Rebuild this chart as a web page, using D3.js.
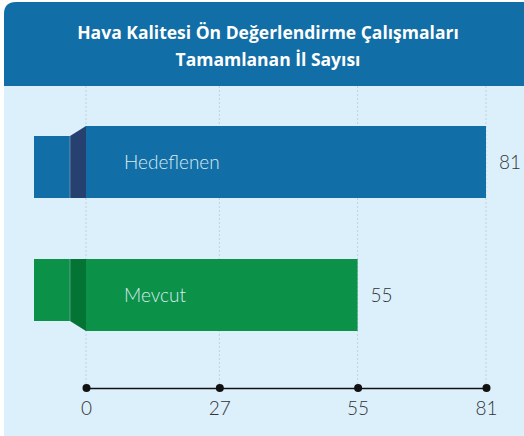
<!DOCTYPE html>
<html lang="tr">
<head>
<meta charset="utf-8">
<script src="https://d3js.org/d3.v7.min.js"></script>
<style>
  body { margin: 0; background: #fff; }
  svg { display: block; }
</style>
</head>
<body>
<script>
// data
const categories = ["Hedeflenen", "Mevcut"];
const values = [81, 55];
const tickValues = [0, 27, 55, 81];
const titleLines = ["Hava Kalitesi Ön Değerlendirme Çalışmaları", "Tamamlanan İl Sayısı"];

const colors = { Hedeflenen: "#126ea6", Mevcut: "#0b9148" };
const darkColors = { Hedeflenen: "#26406f", Mevcut: "#037434" };

const W = 524, H = 436;
const svg = d3.select("body").append("svg").attr("width", W).attr("height", H);

// card
svg.append("rect")
    .attr("x", 4).attr("y", 2).attr("width", 540).attr("height", 446)
    .attr("rx", 12).attr("fill", "#dcf0fc");

// header
const hdr = "M4,86 L4,14 Q4,2 16,2 L524,2 L524,86 Z";
svg.append("path").attr("d", hdr).attr("fill", "#126ea6");

svg.selectAll(".title")
    .data(titleLines)
    .enter().append("text")
    .attr("class", "title")
    .attr("x", 268)
    .attr("y", (d, i) => 39 + i * 27)
    .attr("text-anchor", "middle")
    .attr("fill", "#fff")
    .style("font-family", "'Open Sans', sans-serif")
    .style("font-weight", 700)
    .style("font-size", "17.5px")
    .text(d => d);

const x = d3.scaleLinear().domain([0, 81]).range([86, 486]);
const y = d3.scaleBand().domain(categories).range([126, 331]).paddingInner(61 / 133).paddingOuter(0);

// dotted grid
svg.selectAll(".grid")
    .data(tickValues)
    .enter().append("line")
    .attr("x1", d => x(d)).attr("x2", d => x(d))
    .attr("y1", 86).attr("y2", 388)
    .attr("stroke", "#c5cfd6")
    .attr("stroke-width", 1)
    .attr("stroke-dasharray", "2,2");

const stub = 52, fold = 16, lift = 10;

const bars = svg.selectAll(".bar")
    .data(categories)
    .enter().append("g");

bars.each(function(c, i) {
    const g = d3.select(this);
    const top = y(c), bh = y.bandwidth();
    const x0 = x(0);
    // ribbon stub: top one sits lower, bottom one sits higher
    const sTop = i === 0 ? top + lift : top;
    const sBot = i === 0 ? top + bh : top + bh - lift;
    g.append("rect")
        .attr("x", x0 - stub).attr("y", sTop)
        .attr("width", stub - fold).attr("height", sBot - sTop)
        .attr("fill", colors[c]);
    g.append("path")
        .attr("d", `M${x0 - fold},${sTop} L${x0},${top} L${x0},${top + bh} L${x0 - fold},${sBot} Z`)
        .attr("fill", darkColors[c]);
    g.append("line")
        .attr("x1", x0 - fold).attr("x2", x0 - fold)
        .attr("y1", sTop).attr("y2", sBot)
        .attr("stroke", "#9fb8c8").attr("stroke-width", 0.8).attr("opacity", 0.7);
    g.append("rect")
        .attr("x", x0).attr("y", top)
        .attr("width", x(values[i]) - x0).attr("height", bh)
        .attr("fill", colors[c]);
    g.append("text")
        .attr("x", 124).attr("y", top + bh / 2 + 7)
        .attr("fill", "#d8ebf2")
        .style("font-family", "Lato, sans-serif")
        .style("font-weight", 300)
        .style("font-size", "19px")
        .text(c);
    g.append("text")
        .attr("x", x(values[i]) + 13).attr("y", top + bh / 2 + 7)
        .attr("fill", "#333")
        .style("font-family", "Lato, sans-serif")
        .style("font-weight", 300)
        .style("font-size", "19px")
        .text(values[i]);
});

// axis
const axis = svg.append("g").attr("transform", "translate(0,388)")
    .call(d3.axisBottom(x).tickValues(tickValues).tickSize(0).tickPadding(14).tickFormat(d3.format("d")));
axis.select(".domain").attr("stroke", "#111").attr("stroke-width", 1.6);
axis.selectAll("text")
    .attr("fill", "#333")
    .style("font-family", "Lato, sans-serif")
    .style("font-weight", 300)
    .style("font-size", "19px");
axis.selectAll(".tick").append("circle").attr("r", 4).attr("fill", "#111");
</script>
</body>
</html>
